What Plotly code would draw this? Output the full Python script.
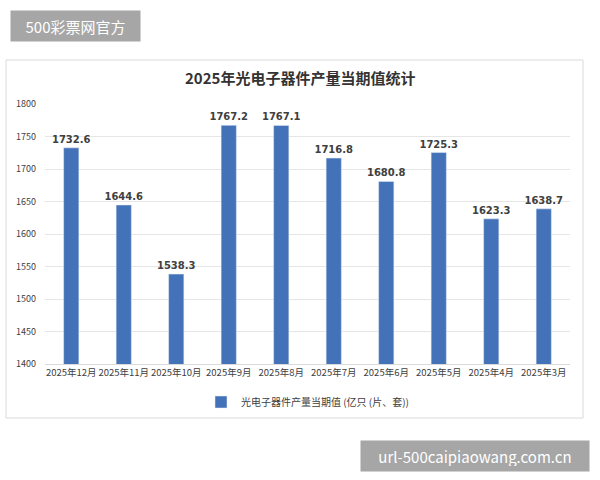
import plotly.graph_objects as go

categories = ["2025年12月", "2025年11月", "2025年10月", "2025年9月", "2025年8月",
              "2025年7月", "2025年6月", "2025年5月", "2025年4月", "2025年3月"]
values = [1732.6, 1644.6, 1538.3, 1767.2, 1767.1, 1716.8, 1680.8, 1725.3, 1623.3, 1638.7]
y_ticks = [1400, 1450, 1500, 1550, 1600, 1650, 1700, 1750, 1800]
title_text = "2025年光电子器件产量当期值统计"
series_name = "光电子器件产量当期值 (亿只 (片、套))"

W, H = 600, 480
ml, mr, mt, mb = 45, 30, 104, 116
pw, ph = W - ml - mr, H - mt - mb

def px(x):
    return (x - ml) / pw

def py(y):
    return (H - mb - y) / ph

font_cn = "Noto Sans CJK SC"

fig = go.Figure()
fig.add_trace(go.Bar(
    x=categories, y=values, name=series_name,
    marker=dict(color="#4472b8"), width=0.29,
    text=[f"<b>{v:.1f}</b>" for v in values], textposition="outside",
    constraintext="none",
    textfont=dict(size=10, color="#404040", family="DejaVu Sans"),
    cliponaxis=False, showlegend=True,
))

fig.update_layout(
    width=W, height=H,
    margin=dict(l=ml, r=mr, t=mt, b=mb),
    paper_bgcolor="white", plot_bgcolor="white",
    font=dict(family=font_cn, color="#404040"),
    bargap=0.7,
    uniformtext=dict(mode=False),
    xaxis=dict(showgrid=False, showline=True, linecolor="#d9d9d9", ticks="",
               tickangle=0,
               tickfont=dict(size=9.5, color="#404040", family=font_cn)),
    yaxis=dict(range=[1400, 1800], tickvals=y_ticks, showgrid=True, gridcolor="#e6e6e6",
               zeroline=False, ticks="", tickfont=dict(size=9, color="#404040"),
               ticklabelstandoff=8),
    showlegend=True,
    legend=dict(orientation="h", x=0.5, xanchor="center", y=py(402), yanchor="middle",
                font=dict(size=10, color="#404040", family=font_cn),
                itemwidth=30),
    shapes=[dict(type="rect", xref="paper", yref="paper",
                 x0=px(6), x1=px(583), y0=py(418), y1=py(60),
                 line=dict(color="#d9d9d9", width=1), layer="below")],
    annotations=[
        dict(text="<b>" + title_text + "</b>", xref="paper", yref="paper",
             x=px(300), y=py(78), xanchor="center", yanchor="middle", showarrow=False,
             font=dict(size=15, color="#333333", family=font_cn)),
        dict(text="500彩票网官方", xref="paper", yref="paper",
             x=px(10), y=py(10), xanchor="left", yanchor="top", showarrow=False,
             bgcolor="#a6a6a6", borderpad=5, width=119, height=20,
             font=dict(size=15, color="white", family=font_cn)),
        dict(text="url-500caipiaowang.com.cn", xref="paper", yref="paper",
             x=px(360), y=py(440), xanchor="left", yanchor="top", showarrow=False,
             bgcolor="#a6a6a6", borderpad=5, width=218, height=20,
             font=dict(size=15, color="white", family=font_cn)),
    ],
)

fig.write_html("out.html")
